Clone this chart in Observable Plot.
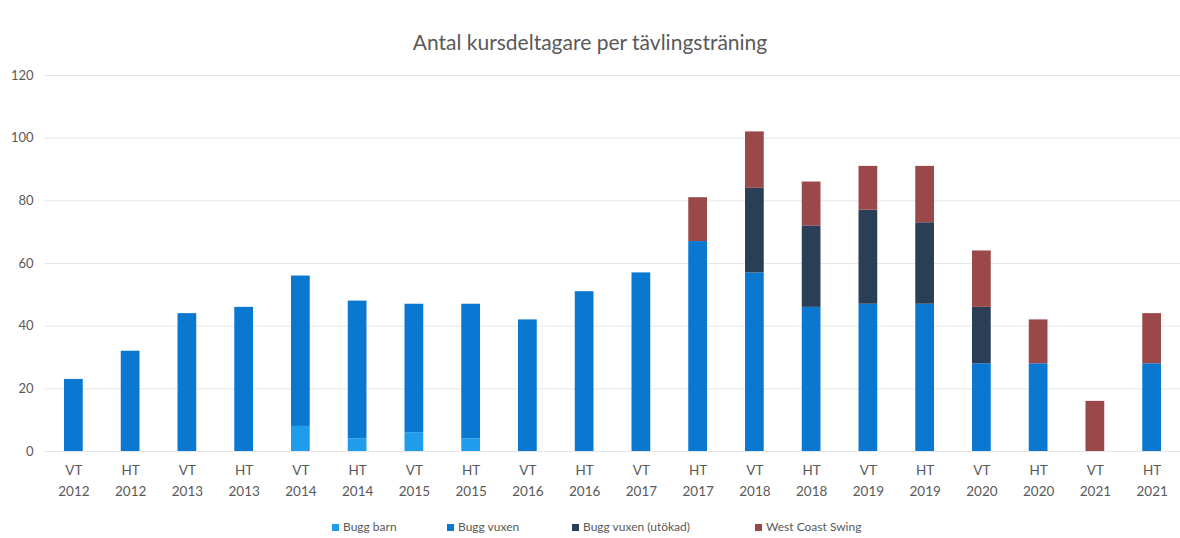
<!DOCTYPE html>
<html>
<head>
<meta charset="utf-8">
<script src="https://cdn.jsdelivr.net/npm/d3@7"></script>
<script src="https://cdn.jsdelivr.net/npm/@observablehq/plot@0.6"></script>
<style>
  html, body { margin: 0; padding: 0; background: #fff; }
  body { width: 1180px; height: 538px; position: relative; overflow: hidden; font-family: Lato, "Open Sans", sans-serif; }
  #title { position: absolute; top: 29px; left: 0; width: 1180px; text-align: center; font-size: 21px; line-height: 26px; color: #595959; }
  #chart { position: absolute; top: 54px; left: 0; }
  #legend { position: absolute; top: 519px; left: 0; width: 1180px; height: 16px; font-size: 12px; color: #595959; }
  .item { position: absolute; display: flex; align-items: center; line-height: 16px; }
  .sw { width: 7px; height: 7px; margin-right: 4px; display: inline-block; }
</style>
</head>
<body>
<div id="title">Antal kursdeltagare per tävlingsträning</div>
<div id="chart"></div>
<div id="legend"></div>
<script>
const periods = ["VT 2012","HT 2012","VT 2013","HT 2013","VT 2014","HT 2014","VT 2015","HT 2015","VT 2016","HT 2016",
                 "VT 2017","HT 2017","VT 2018","HT 2018","VT 2019","HT 2019","VT 2020","HT 2020","VT 2021","HT 2021"];
const seriesNames = ["Bugg barn", "Bugg vuxen", "Bugg vuxen (utökad)", "West Coast Swing"];
const seriesColors = ["#1f9cec", "#0a77d0", "#2a3f56", "#9a4849"];
const buggBarn   = [0, 0, 0, 0, 8, 4, 6, 4, 0, 0, 0, 0, 0, 0, 0, 0, 0, 0, 0, 0];
const buggVuxen  = [23, 32, 44, 46, 48, 44, 41, 43, 42, 51, 57, 67, 57, 46, 47, 47, 28, 28, 0, 28];
const buggUtokad = [0, 0, 0, 0, 0, 0, 0, 0, 0, 0, 0, 0, 27, 26, 30, 26, 18, 0, 0, 0];
const wcs        = [0, 0, 0, 0, 0, 0, 0, 0, 0, 0, 0, 14, 18, 14, 14, 18, 18, 14, 16, 16];
const yTicks = [0, 20, 40, 60, 80, 100, 120];

const seriesValues = [buggBarn, buggVuxen, buggUtokad, wcs];
const data = [];
seriesNames.forEach((s, si) => {
  periods.forEach((p, i) => {
    data.push({period: p, series: s, value: seriesValues[si][i]});
  });
});

const chart = Plot.plot({
  width: 1180,
  height: 451,
  marginTop: 21,
  marginLeft: 45,
  marginRight: 0,
  marginBottom: 54,
  style: {fontFamily: "Lato, 'Open Sans', sans-serif", color: "#595959", background: "transparent"},
  x: {domain: periods, paddingInner: 0.67, paddingOuter: 0.335, round: false, label: null},
  y: {domain: [0, 120], label: null},
  color: {domain: seriesNames, range: seriesColors},
  marks: [
    Plot.ruleY(yTicks, {stroke: "#e6e6e6", strokeWidth: 1}),
    Plot.barY(data, {x: "period", y: "value", fill: "series", order: seriesNames}),
    Plot.axisY({ticks: yTicks, tickSize: 0, tickPadding: 12, fontSize: 13, fill: "#595959", label: null}),
    Plot.axisX({tickSize: 0, tickPadding: 9, fontSize: 13.5, lineHeight: 1.55, fill: "#595959", label: null,
                tickFormat: d => d.replace(" ", "\n")})
  ]
});
document.getElementById("chart").appendChild(chart);

const legendPos = [332, 447, 572, 755];
const legend = document.getElementById("legend");
seriesNames.forEach((s, i) => {
  const it = document.createElement("div");
  it.className = "item";
  it.style.left = legendPos[i] + "px";
  it.innerHTML = `<span class="sw" style="background:${seriesColors[i]}"></span><span>${s}</span>`;
  legend.appendChild(it);
});
</script>
</body>
</html>
